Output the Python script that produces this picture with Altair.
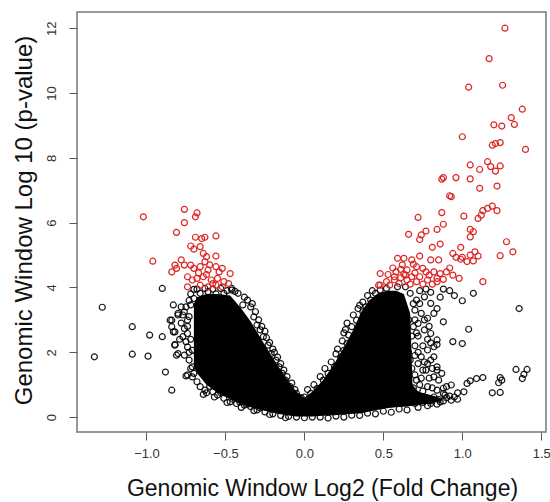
import altair as alt
import pandas as pd

# ---- data ----
red_points = [
    (1.27, 12.0), (1.17, 11.06), (1.04, 10.18), (1.255, 10.24), (1.38, 9.5), (1.31, 9.24),
    (1.33, 9.03), (1.20, 9.02), (1.25, 8.98), (1.0, 8.65), (1.19, 8.39), (1.21, 8.44),
    (1.24, 8.47), (1.40, 8.26), (1.05, 7.78), (1.16, 7.88), (1.18, 7.73), (1.24, 7.75),
    (1.21, 7.59), (1.11, 7.64), (0.87, 7.34), (0.88, 7.39), (0.96, 7.39), (1.05, 7.35),
    (1.11, 7.06), (1.22, 7.13), (0.92, 6.83), (0.93, 6.80), (1.16, 6.44), (1.19, 6.51),
    (1.22, 6.37), (1.13, 6.37), (1.10, 6.13), (1.12, 6.23), (1.01, 6.20), (0.87, 6.31),
    (0.72, 6.16), (0.88, 5.95), (0.84, 5.79), (0.77, 5.74), (0.74, 5.62), (0.73, 5.48),
    (0.66, 5.64), (1.05, 5.79), (1.07, 5.72), (1.05, 5.56), (1.28, 5.41), (1.32, 5.10),
    (1.24, 4.98), (0.99, 5.24), (0.94, 5.05), (0.96, 4.93), (1.0, 4.93), (1.05, 5.0),
    (1.08, 5.10), (1.10, 4.97), (0.86, 5.34), (0.81, 5.24), (0.59, 4.9), (0.63, 4.9),
    (0.73, 4.97), (0.68, 4.85), (0.80, 4.85), (0.85, 4.85), (0.99, 4.87), (1.03, 4.80),
    (1.07, 4.82), (0.48, 4.43), (0.53, 4.40), (0.58, 4.48), (0.61, 4.56), (0.65, 4.54),
    (0.68, 4.33), (0.70, 4.45), (0.75, 4.59), (0.79, 4.38), (0.82, 4.48), (0.86, 4.43),
    (0.90, 4.48), (0.94, 4.38), (0.98, 4.28), (0.88, 4.25), (0.65, 4.23), (0.61, 4.30),
    (0.57, 4.23), (0.52, 4.18), (0.48, 4.07), (0.54, 4.07), (0.71, 4.18), (0.78, 4.23),
    (0.84, 4.18), (1.13, 4.18), (0.73, 4.33), (0.77, 4.48), (0.63, 4.41), (0.71, 4.64),
    (0.84, 4.28), (0.64, 4.38), (0.47, 4.07), (0.57, 4.33), (0.60, 4.12), (0.67, 4.10),
    (0.75, 4.10), (0.81, 4.10), (0.56, 4.60), (0.62, 4.70), (0.69, 4.72), (0.92, 4.60),
    # left group
    (-1.02, 6.18), (-0.76, 6.41), (-0.68, 6.30), (-0.69, 6.18), (-0.76, 6.0), (-0.81, 5.70),
    (-0.96, 4.81), (-0.69, 5.55), (-0.65, 5.51), (-0.63, 5.55), (-0.56, 5.59), (-0.72, 5.28),
    (-0.70, 5.18), (-0.66, 5.26), (-0.64, 5.05), (-0.62, 4.95), (-0.56, 4.97), (-0.78, 4.85),
    (-0.82, 4.69), (-0.84, 4.48), (-0.81, 4.59), (-0.76, 4.69), (-0.72, 4.69), (-0.70, 4.59),
    (-0.66, 4.64), (-0.63, 4.79), (-0.61, 4.54), (-0.56, 4.64), (-0.54, 4.48), (-0.52, 4.59),
    (-0.47, 4.43), (-0.74, 4.33), (-0.71, 4.23), (-0.68, 4.28), (-0.64, 4.33), (-0.59, 4.23),
    (-0.55, 4.28), (-0.51, 4.18), (-0.66, 4.07), (-0.61, 4.02), (-0.56, 4.07), (-0.74, 4.02),
    (-0.52, 4.02), (-0.48, 4.12), (-0.62, 4.40), (-0.58, 4.12), (-0.60, 4.70), (-0.67, 4.45),
]

black_points = [
    # left outliers and left edge
    (-1.28, 3.39), (-1.33, 1.86), (-1.09, 2.79), (-1.09, 1.94), (-0.99, 1.88), (-0.98, 2.53),
    (-0.90, 2.48), (-0.90, 3.97), (-0.88, 1.39), (-0.84, 0.83), (-0.64, 0.70), (-0.82, 2.24),
    (-0.84, 2.99), (-0.84, 2.79), (-0.82, 2.63), (-0.83, 3.46), (-0.80, 3.20), (-0.75, 3.40),
    (-0.77, 3.15), (-0.74, 2.99), (-0.81, 1.91), (-0.75, 1.27), (-0.78, 3.40), (-0.76, 3.25),
    (-0.72, 3.46), (-0.80, 3.15), (-0.85, 2.99), (-0.83, 2.63), (-0.76, 2.73), (-0.74, 2.58),
    (-0.77, 2.48), (-0.75, 2.33), (-0.82, 2.22), (-0.80, 1.96), (-0.76, 1.91), (-0.73, 1.76),
    (-0.71, 2.06), (-0.74, 2.16), (-0.72, 3.80), (-0.73, 3.1), (-0.72, 2.4), (-0.71, 1.55),
    (-0.73, 3.6), (-0.74, 2.8), (-0.73, 2.0), (-0.72, 1.5), (-0.70, 1.35), (-0.78, 2.9),
    (-0.79, 2.4),
    # lower-left edge
    (-0.74, 1.30), (-0.71, 1.24), (-0.68, 1.09), (-0.66, 0.94), (-0.63, 0.83), (-0.58, 0.78),
    (-0.55, 0.68), (-0.51, 0.58), (-0.47, 0.47), (-0.43, 0.42), (-0.38, 0.37), (-0.34, 0.32),
    (-0.30, 0.22), (-0.25, 0.16), (-0.41, 0.47), (-0.20, 0.10), (-0.15, 0.05), (-0.10, 0.02),
    (-0.60, 0.95), (-0.53, 0.75), (-0.45, 0.55), (-0.36, 0.40), (-0.28, 0.28),
    (-0.62, 0.75), (-0.57, 0.62), (-0.49, 0.45), (-0.40, 0.30), (-0.32, 0.20), (-0.22, 0.08),
    (-0.12, -0.02),
    # top and right edge of left lobe
    (-0.70, 3.66), (-0.66, 3.82), (-0.61, 3.87), (-0.56, 3.80), (-0.51, 3.82), (-0.46, 3.92),
    (-0.42, 3.82), (-0.36, 3.61), (-0.39, 3.46), (-0.34, 3.40), (-0.32, 3.09), (-0.30, 2.84),
    (-0.28, 2.69), (-0.26, 2.48), (-0.23, 2.22), (-0.21, 1.96), (-0.18, 1.76), (-0.16, 1.55),
    (-0.14, 1.35), (-0.12, 1.14), (-0.09, 0.94), (-0.05, 0.73), (-0.70, 3.94), (-0.46, 3.97),
    (-0.02, 0.60), (-0.38, 3.70), (-0.31, 3.25), (-0.25, 2.65), (-0.20, 2.1),
    (-0.33, 3.5), (-0.29, 3.0), (-0.27, 2.8), (-0.24, 2.45), (-0.22, 2.3), (-0.19, 2.0),
    (-0.17, 1.85), (-0.15, 1.65), (-0.13, 1.45), (-0.11, 1.25), (-0.08, 1.05), (-0.06, 0.85),
    (-0.68, 3.95), (-0.63, 3.97), (-0.58, 3.95), (-0.53, 3.97), (-0.49, 3.9), (-0.44, 3.88),
    # left edge of right lobe
    (0.04, 0.73), (0.08, 0.88), (0.12, 1.14), (0.15, 1.35), (0.19, 1.55), (0.23, 1.86),
    (0.25, 2.06), (0.27, 2.27), (0.28, 2.53), (0.30, 2.79), (0.33, 2.99), (0.37, 3.25),
    (0.39, 3.40), (0.42, 3.61), (0.45, 3.82), (0.48, 3.92), (0.52, 3.97), (0.59, 4.02),
    (0.64, 4.02), (0.00, 0.62), (0.21, 2.1), (0.26, 2.7), (0.35, 3.45),
    (0.02, 0.85), (0.06, 1.0), (0.10, 1.25), (0.13, 1.5), (0.17, 1.7), (0.20, 1.95),
    (0.24, 2.35), (0.25, 2.6), (0.27, 2.9), (0.31, 3.15), (0.34, 3.35), (0.37, 3.55),
    (0.40, 3.75), (0.43, 3.9),
    # sparser right part of right lobe
    (0.67, 3.82), (0.71, 3.61), (0.76, 3.71), (0.80, 3.51), (0.84, 3.35), (0.88, 2.94),
    (0.82, 3.20), (0.78, 3.05), (0.72, 2.89), (0.76, 2.69), (0.80, 2.58), (0.84, 2.38),
    (0.82, 2.17), (0.78, 2.07), (0.74, 1.86), (0.80, 1.76), (0.84, 1.55), (0.87, 1.35),
    (0.82, 1.24), (0.77, 1.45), (0.72, 1.65), (0.71, 1.14), (0.78, 0.94), (0.84, 0.83),
    (0.88, 0.73), (0.90, 0.94), (0.67, 0.73), (0.73, 0.52), (0.80, 0.42), (0.86, 0.47),
    (0.65, 2.27), (0.67, 1.76), (0.69, 2.79), (0.70, 3.30),
    (0.66, 3.0), (0.68, 2.5), (0.66, 2.0), (0.68, 1.5), (0.66, 1.0), (0.70, 2.2),
    (0.72, 2.5), (0.74, 3.2), (0.70, 1.9), (0.74, 1.2), (0.76, 1.7), (0.78, 2.4),
    (0.69, 3.5), (0.73, 3.9), (0.77, 3.95), (0.80, 3.85), (0.86, 3.7), (0.92, 3.9),
    (0.95, 3.75), (0.88, 3.95), (0.70, 3.0), (0.72, 2.0), (0.70, 1.3), (0.73, 1.0),
    (0.75, 2.2), (0.71, 2.6), (0.73, 3.5), (0.75, 0.8), (0.69, 0.9), (0.76, 3.0),
    (0.79, 2.8), (0.79, 1.2), (0.81, 0.9), (0.71, 0.7), (0.75, 1.45), (0.78, 1.65),
    # right outliers
    (1.07, 3.82), (1.00, 3.59), (1.36, 3.35), (1.04, 2.71), (0.94, 2.33), (1.00, 2.27),
    (0.84, 2.24), (0.80, 2.29), (0.82, 1.86), (0.81, 1.50), (0.84, 1.45), (1.34, 1.47),
    (1.41, 1.47), (1.39, 1.32), (1.38, 1.19), (1.24, 1.22), (1.25, 1.14), (1.23, 1.06),
    (1.13, 1.22), (1.09, 1.19), (1.05, 1.12), (1.03, 1.04), (1.19, 0.75), (1.24, 0.76),
    (1.01, 0.78), (0.97, 0.75), (0.93, 0.99), (0.88, 0.89), (0.85, 1.14), (0.89, 0.68),
    (0.93, 0.52),
    # bottom tail
    (0.70, 0.42), (0.75, 0.45), (0.80, 0.50), (0.85, 0.55), (0.90, 0.60), (0.95, 0.62),
    (0.72, 0.30), (0.78, 0.35), (0.84, 0.40), (0.68, 0.55), (0.74, 0.62), (0.60, 0.25),
    (0.50, 0.18), (0.40, 0.12), (0.30, 0.06), (0.20, 0.03), (0.10, 0.0), (0.0, -0.02),
    (-0.05, 0.0), (0.05, 0.0), (0.82, 0.62), (0.88, 0.50), (0.92, 0.65), (0.97, 0.55),
    (0.15, -0.03), (0.25, 0.0), (0.35, 0.05), (0.45, 0.10), (0.55, 0.15), (0.65, 0.22),
]

# dense, fully overplotted core of the cloud: x with upper and lower extent
core_x = [-0.70, -0.68, -0.62, -0.55, -0.47, -0.40, -0.34, -0.26, -0.17, -0.10, -0.05, 0.0,
          0.05, 0.12, 0.19, 0.25, 0.31, 0.36, 0.41, 0.46, 0.52, 0.58, 0.63, 0.67, 0.685,
          0.72, 0.80, 0.86]
core_hi = [3.5, 3.7, 3.8, 3.8, 3.75, 3.35, 2.95, 2.3, 1.6, 1.1, 0.78, 0.6,
           0.78, 1.15, 1.65, 2.15, 2.7, 3.25, 3.6, 3.8, 3.9, 3.9, 3.8, 3.2, 1.0,
           0.78, 0.68, 0.6]
core_lo = [1.55, 1.35, 1.0, 0.75, 0.55, 0.4, 0.3, 0.2, 0.1, 0.05, 0.02, 0.02,
           0.02, 0.04, 0.06, 0.08, 0.1, 0.12, 0.17, 0.22, 0.27, 0.3, 0.32, 0.34, 0.35,
           0.37, 0.42, 0.5]

x_ticks = [-1.0, -0.5, 0.0, 0.5, 1.0, 1.5]
y_ticks = [0, 2, 4, 6, 8, 10, 12]

red_df = pd.DataFrame(red_points, columns=["x", "y"])
black_df = pd.DataFrame(black_points, columns=["x", "y"])
core_df = pd.DataFrame({"x": core_x, "hi": core_hi, "lo": core_lo})

FONT = "Liberation Sans"
xscale = alt.Scale(domain=[-1.44, 1.53], nice=False, zero=False)
yscale = alt.Scale(domain=[-0.46, 12.5], nice=False, zero=False)

xaxis = alt.Axis(
    values=x_ticks, format=".1f", title="Genomic Window Log2 (Fold Change)",
    grid=False, domain=False, tickSize=8, tickColor="#555", labelColor="#333",
    labelFontSize=13, labelPadding=7, labelFont=FONT,
    titleFont=FONT, titleFontSize=23, titleFontWeight="normal", titleColor="#111",
    titleX=245, titleY=56, titleBaseline="middle", titleAlign="center",
)
yaxis = alt.Axis(
    values=y_ticks, format="d", title="Genomic Window Log 10 (p-value)",
    grid=False, domain=False, tickSize=8, tickColor="#555", labelColor="#333",
    labelFontSize=13, labelPadding=11, labelFont=FONT, labelAngle=270,
    labelAlign="center", labelBaseline="bottom",
    titleFont=FONT, titleFontSize=24, titleFontWeight="normal", titleColor="#111",
    titleX=-53, titleY=208, titleBaseline="middle", titleAlign="center", titleAngle=270,
)

core = alt.Chart(core_df).mark_area(color="black", interpolate="linear").encode(
    x=alt.X("x:Q", scale=xscale, axis=xaxis),
    y=alt.Y("hi:Q", scale=yscale, axis=yaxis),
    y2="lo:Q",
)

black = alt.Chart(black_df).mark_point(
    shape="circle", filled=False, color="black", size=36, strokeWidth=1.2, opacity=0.9
).encode(x=alt.X("x:Q", scale=xscale), y=alt.Y("y:Q", scale=yscale))

red = alt.Chart(red_df).mark_point(
    shape="circle", filled=False, color="#dd2424", size=36, strokeWidth=1.2, opacity=1
).encode(x=alt.X("x:Q", scale=xscale), y=alt.Y("y:Q", scale=yscale))

chart = alt.layer(core, black, red).properties(
    width=469, height=420,
    autosize=alt.AutoSizeParams(type="none"),
    padding={"left": 77, "top": 12, "right": 4, "bottom": 70},
    background="white",
).configure_view(stroke="#777", strokeWidth=1.5)

chart.save("out.html", embed_options={"renderer": "svg", "actions": False})
